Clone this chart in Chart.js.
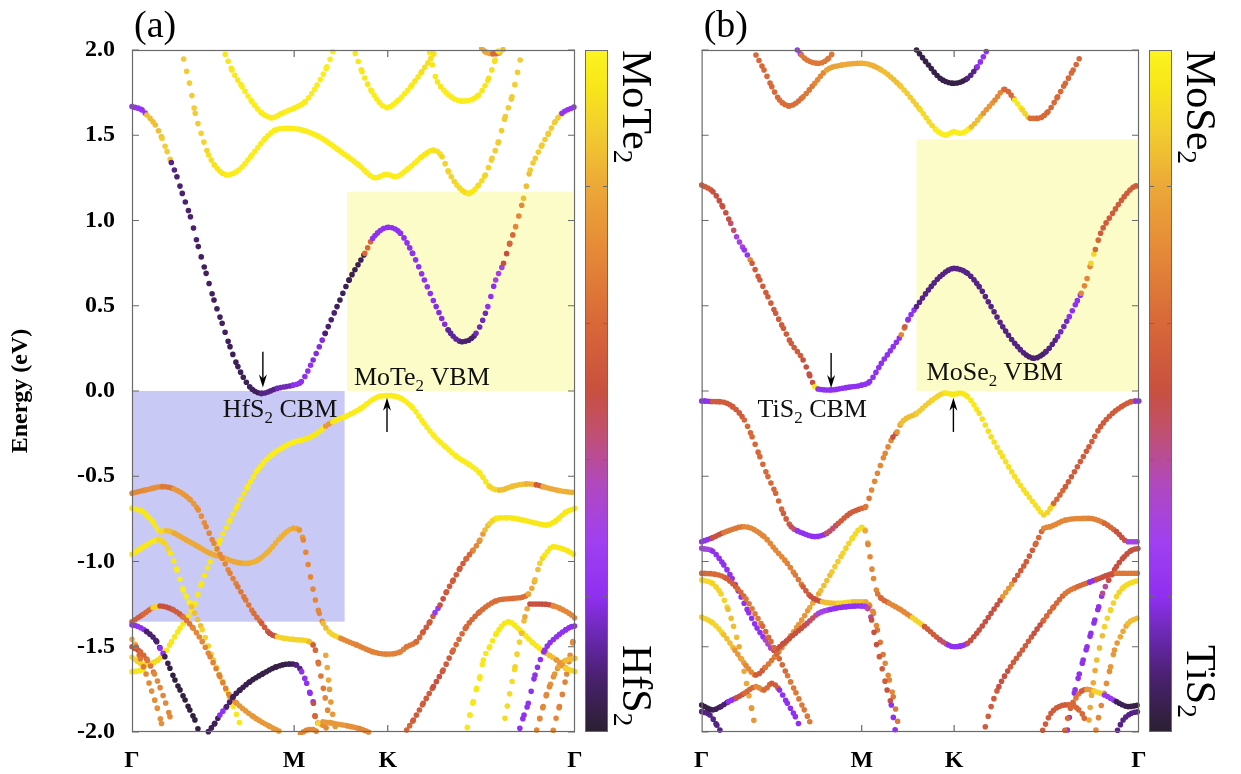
<!DOCTYPE html>
<html><head><meta charset="utf-8">
<script src="https://cdn.jsdelivr.net/npm/chart.js"></script>
<style>
html,body{margin:0;padding:0;background:#fff;width:1241px;height:774px;overflow:hidden}
#ca{position:absolute;left:0;top:0}
#cb{position:absolute;left:680px;top:0}
</style></head><body>
<canvas id="ca" width="680" height="774"></canvas>
<canvas id="cb" width="561" height="774"></canvas>
<script>
// ---------- axis values ----------
const kTicks = [0, 0.5774, 0.9107, 1.5774];
const kLabels = ['Γ', 'M', 'K', 'Γ'];
const eTicks = [-2, -1.5, -1, -0.5, 0, 0.5, 1, 1.5, 2];

// ---------- panel (a) bands: [k, E (eV), MoTe2 weight] ----------
const aC = [[0,1.668,0.22],[0.036,1.648,0.22],[0.053,1.619,0.85],[0.083,1.560,0.85],[0.107,1.482,0.88],[0.125,1.404,0.88],[0.140,1.340,0.1],[0.160,1.257,0.08],[0.179,1.159,0.08],[0.208,1.022,0.08],[0.236,0.847,0.06],[0.264,0.690,0.06],[0.292,0.534,0.06],[0.321,0.397,0.06],[0.349,0.260,0.05],[0.377,0.143,0.05],[0.419,0.025,0.06],[0.462,-0.014,0.1],[0.518,0.016,0.15],[0.575,0.035,0.2],[0.603,0.055,0.2],[0.645,0.182,0.18],[0.688,0.338,0.08],[0.730,0.495,0.05],[0.773,0.651,0.04],[0.815,0.768,0.05],[0.829,0.807,0.6],[0.857,0.895,0.2],[0.914,0.960,0.2],[0.956,0.925,0.2],[0.999,0.807,0.2],[1.041,0.651,0.2],[1.083,0.495,0.18],[1.126,0.358,0.12],[1.175,0.289,0.08],[1.225,0.338,0.15],[1.267,0.495,0.2],[1.295,0.651,0.3],[1.323,0.749,0.5],[1.345,0.866,0.6],[1.366,0.964,0.7],[1.394,1.130,0.85],[1.418,1.296,0.88],[1.436,1.365,0.88],[1.460,1.443,0.88],[1.483,1.511,0.88],[1.507,1.580,0.88],[1.531,1.629,0.22],[1.5774,1.668,0.22]];
const aT1 = [[0.184,1.947,0.88],[0.208,1.779,0.88],[0.225,1.629,0.88],[0.246,1.511,0.9],[0.273,1.384,0.93],[0.303,1.306,0.95],[0.338,1.267,0.97],[0.380,1.296,0.97],[0.427,1.384,0.97],[0.475,1.482,0.97],[0.510,1.531,0.97],[0.558,1.541,0.97],[0.605,1.531,0.97],[0.665,1.492,0.97],[0.736,1.413,0.97],[0.807,1.326,0.97],[0.866,1.251,0.97],[0.908,1.271,0.97],[0.937,1.257,0.97],[0.985,1.306,0.97],[1.032,1.374,0.95],[1.074,1.413,0.93],[1.104,1.374,0.9],[1.127,1.286,0.9],[1.157,1.208,0.92],[1.199,1.159,0.95],[1.234,1.208,0.92],[1.258,1.267,0.9],[1.282,1.365,0.88],[1.305,1.462,0.88],[1.329,1.609,0.88],[1.353,1.726,0.88],[1.386,1.971,0.88]];
const aT2 = [[0.332,1.975,0.95],[0.356,1.883,0.95],[0.392,1.785,0.97],[0.427,1.697,0.97],[0.463,1.629,0.97],[0.498,1.603,0.97],[0.534,1.629,0.97],[0.581,1.662,0.97],[0.617,1.697,0.97],[0.659,1.795,0.97],[0.694,1.902,0.97],[0.718,2.0,0.97]];
const aT3 = [[0.795,1.980,0.95],[0.819,1.873,0.95],[0.854,1.756,0.97],[0.908,1.662,0.97],[0.949,1.707,0.97],[0.997,1.795,0.95],[1.032,1.873,0.93],[1.080,1.990,0.93]];
const aT4 = [[1.060,1.985,0.95],[1.080,1.844,0.95],[1.110,1.765,0.97],[1.175,1.701,0.97],[1.234,1.736,0.95],[1.270,1.834,0.93],[1.293,1.941,0.93],[1.305,2.0,0.93]];
const aT5 = [[1.245,2.01,0.8],[1.262,1.985,0.8],[1.285,1.978,0.6],[1.31,1.985,0.85],[1.325,2.01,0.85]];
const aV1 = [[0,-1.562,0.9],[0.046,-1.607,0.9],[0.08,-1.59,0.92],[0.112,-1.548,0.95],[0.141,-1.470,0.95],[0.171,-1.392,0.95],[0.200,-1.324,0.95],[0.224,-1.245,0.95],[0.248,-1.128,0.95],[0.278,-1.001,0.95],[0.314,-0.874,0.95],[0.349,-0.757,0.95],[0.377,-0.669,0.95],[0.412,-0.561,0.97],[0.448,-0.463,0.97],[0.490,-0.385,0.97],[0.532,-0.336,0.97],[0.575,-0.300,0.97],[0.617,-0.282,0.95],[0.660,-0.248,0.95],[0.690,-0.205,0.75],[0.715,-0.180,0.95],[0.758,-0.151,0.97],[0.815,-0.102,0.97],[0.857,-0.050,0.97],[0.885,-0.030,0.97],[0.911,-0.027,0.97],[0.935,-0.030,0.97],[0.960,-0.045,0.97],[1.000,-0.100,0.97],[1.040,-0.190,0.97],[1.079,-0.270,0.97],[1.118,-0.330,0.97],[1.156,-0.385,0.97],[1.203,-0.434,0.97],[1.239,-0.483,0.95],[1.274,-0.561,0.9],[1.310,-0.581,0.85],[1.358,-0.557,0.85],[1.405,-0.545,0.82],[1.440,-0.550,0.55],[1.464,-0.561,0.8],[1.524,-0.585,0.82],[1.5774,-0.596,0.82]];
const aV2 = [[0,-0.688,0.95],[0.038,-0.708,0.95],[0.073,-0.766,0.95],[0.102,-0.825,0.92],[0.123,-0.819,0.85],[0.151,-0.835,0.8],[0.194,-0.874,0.8],[0.236,-0.913,0.8],[0.278,-0.952,0.8],[0.321,-0.975,0.8],[0.363,-1.001,0.8],[0.405,-1.011,0.82],[0.448,-0.991,0.82],[0.490,-0.933,0.82],[0.532,-0.854,0.82],[0.575,-0.805,0.8],[0.596,-0.815,0.75],[0.610,-0.874,0.7],[0.624,-0.991,0.7],[0.638,-1.109,0.7],[0.653,-1.226,0.7],[0.667,-1.304,0.7],[0.681,-1.363,0.85],[0.702,-1.412,0.9],[0.744,-1.451,0.7],[0.801,-1.490,0.68],[0.857,-1.529,0.68],[0.907,-1.543,0.68],[0.956,-1.529,0.68],[0.978,-1.50,0.65],[1.013,-1.470,0.6],[1.037,-1.412,0.55],[1.061,-1.353,0.55],[1.079,-1.300,0.25],[1.097,-1.255,0.5],[1.120,-1.177,0.55],[1.144,-1.109,0.55],[1.168,-1.040,0.55],[1.191,-0.982,0.6],[1.215,-0.933,0.7],[1.239,-0.874,0.75],[1.257,-0.815,0.85],[1.274,-0.776,0.9],[1.298,-0.747,0.95],[1.334,-0.743,0.95],[1.393,-0.757,0.95],[1.441,-0.776,0.95],[1.476,-0.786,0.95],[1.51,-0.76,0.95],[1.545,-0.71,0.95],[1.5774,-0.688,0.95]];
const aL1 = [[0,-0.600,0.7],[0.05,-0.58,0.72],[0.109,-0.561,0.65],[0.15,-0.575,0.75],[0.208,-0.639,0.75],[0.236,-0.698,0.72],[0.264,-0.796,0.7],[0.292,-0.893,0.7],[0.321,-0.981,0.7],[0.349,-1.069,0.68],[0.377,-1.148,0.65],[0.405,-1.226,0.65],[0.434,-1.304,0.62],[0.462,-1.363,0.55],[0.490,-1.421,0.5],[0.518,-1.441,0.9],[0.575,-1.457,0.9],[0.631,-1.470,0.85],[0.645,-1.49,0.55],[0.653,-1.52,0.6],[0.664,-1.60,0.65],[0.676,-1.70,0.65],[0.688,-1.80,0.7],[0.700,-1.90,0.7],[0.712,-2.0,0.7]];
const aL3 = [[0,-0.958,0.95],[0.052,-0.903,0.95],[0.095,-0.870,0.9],[0.116,-0.893,0.9],[0.137,-0.952,0.95],[0.160,-1.05,0.97],[0.183,-1.167,0.97],[0.212,-1.265,0.85],[0.25,-1.40,0.9],[0.290,-1.578,0.9],[0.325,-1.714,0.95],[0.361,-1.851,0.95],[0.390,-1.978,0.95]];
const aR1 = [[0,-1.353,0.55],[0.040,-1.310,0.6],[0.075,-1.27,0.9],[0.100,-1.261,0.5],[0.147,-1.284,0.55],[0.183,-1.327,0.65],[0.218,-1.392,0.7],[0.25,-1.47,0.7],[0.278,-1.558,0.68],[0.313,-1.675,0.68],[0.349,-1.79,0.7],[0.373,-1.832,0.75],[0.432,-1.910,0.75],[0.491,-1.968,0.75],[0.527,-1.997,0.75]];
const aD = [[0,-1.372,0.2],[0.02,-1.38,0.2],[0.052,-1.411,0.08],[0.088,-1.470,0.08],[0.100,-1.509,0.2],[0.117,-1.558,0.05],[0.135,-1.626,0.02],[0.153,-1.695,0.02],[0.171,-1.753,0.02],[0.189,-1.812,0.02],[0.206,-1.871,0.02],[0.224,-1.929,0.02],[0.236,-1.988,0.02]];
const aDR = [[0.272,-1.998,0.05],[0.295,-1.949,0.05],[0.313,-1.900,0.2],[0.337,-1.851,0.08],[0.361,-1.792,0.05],[0.385,-1.753,0.04],[0.420,-1.705,0.03],[0.468,-1.656,0.03],[0.515,-1.617,0.03],[0.562,-1.601,0.05],[0.586,-1.607,0.1],[0.604,-1.646,0.2],[0.622,-1.714,0.2],[0.634,-1.773,0.2],[0.646,-1.831,0.5],[0.652,-1.909,0.6],[0.663,-1.949,0.9],[0.68,-1.96,0.7],[0.70,-1.99,0.7]];
const aNB = [[0.68,-1.94,0.75],[0.72,-1.95,0.75],[0.77,-1.965,0.72],[0.81,-1.98,0.7],[0.85,-2.005,0.7]];
const aS2 = [[0.69,-1.55,0.8],[0.697,-1.65,0.8],[0.703,-1.75,0.75],[0.71,-1.85,0.75],[0.72,-1.94,0.75],[0.728,-2.0,0.75]];
const aB = [[0.60,-2.01,0.7],[0.62,-1.99,0.7],[0.645,-1.985,0.7],[0.66,-2.0,0.7]];
const aD1 = [[0,-1.456,0.8],[0.015,-1.50,0.6],[0.03,-1.57,0.65],[0.05,-1.66,0.7],[0.07,-1.76,0.72],[0.09,-1.86,0.72],[0.105,-1.95,0.72],[0.11,-1.99,0.72]];
const aD2 = [[0,-1.50,0.5],[0.03,-1.53,0.6],[0.055,-1.58,0.65],[0.08,-1.66,0.7],[0.10,-1.74,0.7],[0.12,-1.83,0.7],[0.135,-1.91,0.7],[0.145,-1.98,0.7]];
const aY = [[0,-1.646,0.95],[0.03,-1.64,0.95],[0.05,-1.625,0.9]];
const aP = [[0.978,-1.988,0.6],[1.002,-1.930,0.55],[1.037,-1.832,0.55],[1.073,-1.734,0.5],[1.108,-1.636,0.55],[1.144,-1.519,0.6],[1.191,-1.382,0.6],[1.239,-1.294,0.62],[1.298,-1.230,0.62],[1.358,-1.216,0.62],[1.411,-1.191,0.8],[1.435,-1.108,0.85],[1.452,-1.011,0.9],[1.470,-0.962,0.95],[1.500,-0.913,0.95],[1.54,-0.93,0.95],[1.5774,-0.962,0.95]];
const aQ = [[1.328,-1.920,0.92],[1.340,-1.816,0.92],[1.352,-1.715,0.92],[1.364,-1.617,0.9],[1.373,-1.523,0.9],[1.387,-1.421,0.85],[1.399,-1.324,0.8],[1.417,-1.249,0.5],[1.476,-1.251,0.5],[1.50,-1.26,0.7],[1.524,-1.275,0.7],[1.565,-1.314,0.7],[1.5774,-1.333,0.7]];
const aPU = [[1.381,-1.978,0.2],[1.396,-1.90,0.2],[1.411,-1.832,0.2],[1.435,-1.666,0.2],[1.470,-1.519,0.2],[1.512,-1.441,0.2],[1.545,-1.40,0.2],[1.565,-1.382,0.2],[1.5774,-1.378,0.2]];
const aYP = [[1.194,-1.973,0.95],[1.203,-1.900,0.95],[1.215,-1.822,0.95],[1.227,-1.744,0.95],[1.239,-1.676,0.95],[1.251,-1.578,0.95],[1.274,-1.500,0.95],[1.298,-1.421,0.95],[1.340,-1.353,0.95],[1.381,-1.402,0.95],[1.429,-1.480,0.95],[1.476,-1.539,0.85],[1.512,-1.578,0.75],[1.545,-1.625,0.9],[1.5774,-1.646,0.95]];
const aO1 = [[1.441,-1.988,0.7],[1.452,-1.92,0.7],[1.464,-1.85,0.7],[1.476,-1.78,0.7],[1.49,-1.72,0.72],[1.505,-1.66,0.75],[1.52,-1.615,0.8],[1.545,-1.58,0.85],[1.5774,-1.568,0.9]];
const aO2 = [[1.50,-1.99,0.7],[1.51,-1.92,0.7],[1.522,-1.85,0.68],[1.535,-1.76,0.68],[1.548,-1.66,0.7],[1.56,-1.55,0.72],[1.57,-1.47,0.72],[1.5774,-1.44,0.72]];

// ---------- panel (b) bands: [k, E (eV), MoSe2 weight] ----------
const bC = [[0,1.208,0.55],[0.041,1.169,0.5],[0.076,1.081,0.5],[0.105,0.983,0.45],[0.126,0.905,0.3],[0.154,0.827,0.22],[0.175,0.77,0.7],[0.182,0.749,0.55],[0.210,0.651,0.55],[0.239,0.553,0.55],[0.267,0.456,0.55],[0.295,0.368,0.55],[0.323,0.280,0.55],[0.366,0.182,0.5],[0.390,0.09,0.5],[0.408,0.025,0.95],[0.420,0.012,0.2],[0.465,0.006,0.2],[0.521,0.020,0.2],[0.578,0.035,0.2],[0.606,0.055,0.2],[0.648,0.162,0.2],[0.691,0.260,0.2],[0.72,0.33,0.7],[0.733,0.377,0.55],[0.745,0.42,0.2],[0.775,0.495,0.1],[0.818,0.592,0.1],[0.860,0.671,0.1],[0.910,0.719,0.1],[0.959,0.690,0.1],[1.001,0.612,0.1],[1.044,0.495,0.1],[1.086,0.377,0.1],[1.129,0.280,0.1],[1.171,0.211,0.08],[1.199,0.192,0.08],[1.242,0.231,0.1],[1.284,0.319,0.15],[1.326,0.436,0.2],[1.355,0.53,0.2],[1.369,0.573,0.7],[1.39,0.66,0.7],[1.404,0.749,0.9],[1.42,0.83,0.6],[1.439,0.925,0.55],[1.482,1.042,0.55],[1.524,1.140,0.55],[1.556,1.195,0.55],[1.5774,1.208,0.55]];
const bT1 = [[0.196,1.971,0.6],[0.225,1.883,0.6],[0.253,1.785,0.6],[0.281,1.707,0.62],[0.316,1.672,0.62],[0.366,1.726,0.65],[0.408,1.805,0.7],[0.451,1.883,0.78],[0.507,1.912,0.8],[0.578,1.922,0.82],[0.648,1.883,0.85],[0.719,1.785,0.88],[0.789,1.648,0.92],[0.846,1.531,0.97],[0.881,1.501,0.97],[0.910,1.521,0.97],[0.931,1.511,0.97],[0.973,1.550,0.85],[1.016,1.629,0.75],[1.058,1.707,0.7],[1.093,1.769,0.6],[1.129,1.707,0.95],[1.157,1.648,0.9],[1.185,1.599,0.62],[1.213,1.599,0.6],[1.249,1.638,0.6],[1.284,1.726,0.6],[1.312,1.805,0.6],[1.340,1.883,0.6],[1.369,1.971,0.6]];
const bT2 = [[0.345,2.0,0.25],[0.36,1.97,0.65],[0.380,1.941,0.65],[0.422,1.922,0.65],[0.458,1.951,0.65],[0.476,1.990,0.65]];
const bT3 = [[0.775,2.0,0.03],[0.818,1.912,0.03],[0.860,1.834,0.03],[0.910,1.805,0.03],[0.959,1.834,0.1],[0.994,1.902,0.2],[1.030,2.0,0.2]];
const bV1 = [[0,-0.059,0.2],[0.013,-0.059,0.2],[0.04,-0.062,0.55],[0.069,-0.063,0.55],[0.112,-0.092,0.55],[0.154,-0.170,0.6],[0.182,-0.268,0.6],[0.210,-0.385,0.6],[0.239,-0.502,0.6],[0.267,-0.600,0.6],[0.295,-0.718,0.55],[0.323,-0.796,0.45],[0.345,-0.82,0.22],[0.366,-0.835,0.2],[0.408,-0.854,0.2],[0.451,-0.835,0.45],[0.493,-0.776,0.55],[0.535,-0.718,0.55],[0.578,-0.688,0.6],[0.592,-0.678,0.65],[0.613,-0.581,0.7],[0.634,-0.483,0.7],[0.662,-0.366,0.7],[0.690,-0.27,0.5],[0.705,-0.240,0.75],[0.719,-0.190,0.85],[0.775,-0.131,0.88],[0.832,-0.053,0.9],[0.88,-0.012,0.95],[0.91,-0.02,0.95],[0.93,-0.012,0.95],[0.959,-0.033,0.95],[1.001,-0.131,0.93],[1.044,-0.268,0.93],[1.086,-0.385,0.93],[1.129,-0.502,0.93],[1.171,-0.600,0.93],[1.213,-0.688,0.93],[1.234,-0.727,0.9],[1.270,-0.659,0.6],[1.312,-0.561,0.55],[1.355,-0.444,0.55],[1.397,-0.327,0.55],[1.439,-0.209,0.55],[1.482,-0.131,0.55],[1.524,-0.082,0.55],[1.55,-0.062,0.55],[1.566,-0.059,0.2],[1.5774,-0.059,0.2]];
const bA = [[0,-0.884,0.2],[0.04,-0.86,0.5],[0.08,-0.83,0.65],[0.154,-0.796,0.7],[0.225,-0.854,0.7],[0.267,-0.933,0.7],[0.309,-1.011,0.68],[0.338,-1.079,0.65],[0.366,-1.148,0.55],[0.394,-1.206,0.5],[0.436,-1.236,0.85],[0.493,-1.245,0.9],[0.549,-1.236,0.85],[0.592,-1.236,0.8],[0.606,-1.26,0.7],[0.620,-1.304,0.7],[0.634,-1.402,0.65],[0.648,-1.500,0.65],[0.662,-1.597,0.7],[0.677,-1.695,0.7],[0.691,-1.793,0.65],[0.702,-1.890,0.65],[0.712,-1.988,0.65]];
const bCc = [[0,-0.923,0.3],[0.04,-0.94,0.2],[0.08,-1.02,0.2],[0.11,-1.10,0.2],[0.14,-1.20,0.2],[0.17,-1.30,0.2],[0.20,-1.39,0.2],[0.23,-1.46,0.35],[0.26,-1.52,0.5],[0.295,-1.480,0.5],[0.338,-1.421,0.5],[0.380,-1.363,0.45],[0.422,-1.304,0.3],[0.465,-1.281,0.2],[0.521,-1.265,0.2],[0.578,-1.261,0.25],[0.599,-1.275,0.4],[0.613,-1.343,0.5],[0.627,-1.460,0.5],[0.641,-1.558,0.55],[0.655,-1.656,0.55],[0.669,-1.754,0.5],[0.684,-1.842,0.2],[0.698,-1.988,0.5]];
const bB = [[0,-1.326,0.9],[0.04,-1.36,0.9],[0.08,-1.43,0.85],[0.12,-1.52,0.75],[0.16,-1.61,0.7],[0.196,-1.666,0.55],[0.23,-1.62,0.65],[0.268,-1.55,0.7],[0.31,-1.46,0.75],[0.35,-1.37,0.75],[0.39,-1.27,0.8],[0.43,-1.17,0.85],[0.47,-1.06,0.88],[0.51,-0.95,0.9],[0.545,-0.86,0.92],[0.578,-0.80,0.92],[0.59,-0.82,0.8],[0.60,-0.90,0.7],[0.61,-1.00,0.7],[0.62,-1.10,0.7],[0.635,-1.19,0.65],[0.648,-1.216,0.6],[0.677,-1.245,0.7],[0.719,-1.284,0.7],[0.76,-1.33,0.9],[0.804,-1.382,0.55],[0.86,-1.46,0.45],[0.89,-1.49,0.2],[0.91,-1.50,0.2],[0.935,-1.495,0.2],[0.959,-1.48,0.5],[1.001,-1.402,0.5],[1.044,-1.304,0.5],[1.086,-1.206,0.75],[1.129,-1.108,0.55],[1.171,-1.001,0.55],[1.206,-0.893,0.6],[1.234,-0.806,0.7],[1.256,-0.796,0.7],[1.312,-0.757,0.7],[1.397,-0.747,0.68],[1.453,-0.776,0.6],[1.496,-0.825,0.5],[1.538,-0.884,0.3],[1.5774,-0.884,0.2]];
const bE = [[0,-1.069,0.6],[0.05,-1.075,0.6],[0.09,-1.10,0.55],[0.13,-1.16,0.6],[0.16,-1.22,0.65],[0.19,-1.30,0.65],[0.22,-1.38,0.6],[0.25,-1.47,0.6],[0.28,-1.57,0.6],[0.31,-1.67,0.65],[0.34,-1.77,0.65],[0.37,-1.87,0.65],[0.39,-1.94,0.65],[0.40,-1.99,0.65]];
const bF = [[0,-1.108,0.92],[0.04,-1.13,0.9],[0.07,-1.19,0.9],[0.095,-1.28,0.85],[0.115,-1.38,0.85],[0.135,-1.50,0.8],[0.15,-1.62,0.8],[0.165,-1.74,0.8],[0.18,-1.86,0.75],[0.195,-1.99,0.75]];
const bDk = [[0,-1.842,0.03],[0.041,-1.870,0.05],[0.07,-1.85,0.08],[0.097,-1.822,0.2],[0.125,-1.80,0.5],[0.154,-1.773,0.6],[0.196,-1.734,0.7],[0.225,-1.754,0.6],[0.253,-1.714,0.55],[0.281,-1.754,0.2],[0.309,-1.832,0.2],[0.338,-1.910,0.2],[0.359,-1.988,0.2]];
const bDk2 = [[0,-1.88,0.1],[0.03,-1.90,0.1],[0.055,-1.96,0.1],[0.07,-2.0,0.1]];
const bP1 = [[1.319,-1.988,0.2],[1.333,-1.851,0.2],[1.347,-1.753,0.2],[1.362,-1.66,0.2],[1.376,-1.578,0.2],[1.390,-1.500,0.2],[1.404,-1.421,0.2],[1.418,-1.343,0.2],[1.432,-1.265,0.2],[1.446,-1.187,0.4],[1.468,-1.109,0.5],[1.496,-1.030,0.5],[1.524,-0.972,0.5],[1.552,-0.933,0.5],[1.5774,-0.923,0.2]];
const bP2 = [[1.023,-1.969,0.55],[1.044,-1.851,0.55],[1.072,-1.734,0.5],[1.114,-1.617,0.55],[1.157,-1.519,0.55],[1.199,-1.421,0.5],[1.234,-1.343,0.6],[1.270,-1.265,0.6],[1.312,-1.187,0.65],[1.355,-1.148,0.6],[1.40,-1.12,0.2],[1.425,-1.105,0.5],[1.496,-1.069,0.65],[1.5774,-1.069,0.65]];
const bP3 = [[1.397,-1.930,0.8],[1.404,-1.812,0.8],[1.414,-1.695,0.8],[1.425,-1.578,0.85],[1.439,-1.480,0.85],[1.453,-1.382,0.9],[1.475,-1.284,0.9],[1.496,-1.206,0.9],[1.524,-1.148,0.92],[1.5774,-1.108,0.95]];
const bP4 = [[1.422,-1.988,0.7],[1.432,-1.910,0.7],[1.446,-1.812,0.7],[1.460,-1.715,0.72],[1.475,-1.617,0.75],[1.489,-1.519,0.75],[1.510,-1.441,0.8],[1.538,-1.363,0.85],[1.5774,-1.327,0.92]];
const bP5 = [[1.31,-1.99,0.6],[1.32,-1.92,0.6],[1.33,-1.86,0.6],[1.35,-1.80,0.65],[1.37,-1.76,0.55],[1.39,-1.75,0.75],[1.415,-1.76,0.9],[1.453,-1.783,0.25],[1.496,-1.822,0.05],[1.538,-1.851,0.03],[1.5774,-1.842,0.03]];
const bP6 = [[1.50,-1.99,0.1],[1.52,-1.93,0.1],[1.55,-1.89,0.1],[1.5774,-1.88,0.15]];
const bP7 = [[1.23,-1.99,0.55],[1.26,-1.89,0.55],[1.29,-1.85,0.55],[1.33,-1.84,0.6],[1.36,-1.87,0.6],[1.38,-1.92,0.6],[1.39,-1.99,0.6]];

const bandsA = [aT1,aT2,aT3,aT4,aT5,aC,aB,aNB,aS2,aDR,aD,aD1,aD2,aR1,aL3,aL1,aY,aV2,aV1,aP,aQ,aPU,aYP,aO1,aO2];
const bandsB = [bT1,bT2,bT3,bC,bDk,bDk2,bE,bF,bCc,bA,bB,bV1,bP7,bP5,bP6,bP4,bP3,bP2,bP1];

// ---------- colour map (0 = bottom layer, 1 = top layer) ----------
const CM = [[0,'#2a2030'],[0.08,'#4a2070'],[0.14,'#6a28b0'],[0.2,'#9030f0'],[0.28,'#a040f0'],[0.36,'#b048c0'],[0.44,'#c05070'],[0.5,'#c85040'],[0.6,'#d86838'],[0.7,'#e48838'],[0.8,'#eca838'],[0.88,'#f2cc30'],[0.95,'#f8e818'],[1,'#fcf420']];
function hx(c){return [parseInt(c.slice(1,3),16),parseInt(c.slice(3,5),16),parseInt(c.slice(5,7),16)];}
function cmap(w){
  w=Math.max(0,Math.min(1,w));
  for(let i=1;i<CM.length;i++){
    if(w<=CM[i][0]){
      const t=(w-CM[i-1][0])/(CM[i][0]-CM[i-1][0]);
      const a=hx(CM[i-1][1]), b=hx(CM[i][1]);
      return 'rgb('+a.map((v,j)=>Math.round(v+(b[j]-v)*t)).join(',')+')';
    }
  }
  return CM[CM.length-1][1];
}

const SERIF='"Liberation Serif", "Times New Roman", serif';
function rich(ctx, parts, x, y, size, align){
  const sub=size*0.65; let total=0;
  parts.forEach(p=>{ctx.font=(p[1]?sub:size)+'px '+SERIF; total+=ctx.measureText(p[0]).width;});
  let cx = align==='center' ? x-total/2 : x;
  ctx.textAlign='left'; ctx.textBaseline='alphabetic';
  parts.forEach(p=>{ctx.font=(p[1]?sub:size)+'px '+SERIF; ctx.fillText(p[0],cx,y+(p[1]?size*0.22:0)); cx+=ctx.measureText(p[0]).width;});
}
function arrow(ctx,x,y0,y1){
  const d=Math.sign(y1-y0);
  ctx.beginPath(); ctx.moveTo(x,y0); ctx.lineTo(x,y1-d*6); ctx.stroke();
  ctx.beginPath(); ctx.moveTo(x,y1); ctx.lineTo(x-4,y1-d*13); ctx.lineTo(x,y1-d*9); ctx.lineTo(x+4,y1-d*13); ctx.closePath(); ctx.fill();
}

function overlayPlugin(P){
  return {
    id:'overlay',
    beforeDatasetsDraw(chart){
      const ctx=chart.ctx, xs=chart.scales.x, ys=chart.scales.y;
      ctx.save();
      P.rects.forEach(r=>{
        const x0=xs.getPixelForValue(r.k0), x1=xs.getPixelForValue(r.k1);
        const y0=ys.getPixelForValue(r.e1), y1=ys.getPixelForValue(r.e0);
        ctx.fillStyle=r.color; ctx.fillRect(x0,y0,x1-x0,y1-y0);
      });
      ctx.restore();
    },
    afterDatasetsDraw(chart){
      const ctx=chart.ctx, xs=chart.scales.x, ys=chart.scales.y, A=chart.chartArea;
      ctx.save();
      // frame
      ctx.strokeStyle='#6a6a6a'; ctx.lineWidth=1.2;
      ctx.strokeRect(A.left+0.5,A.top+0.5,A.right-A.left-1,A.bottom-A.top-1);
      // inward ticks
      ctx.beginPath();
      eTicks.forEach(v=>{const y=ys.getPixelForValue(v); ctx.moveTo(A.left,y); ctx.lineTo(A.left+7,y); ctx.moveTo(A.right-7,y); ctx.lineTo(A.right,y);});
      kTicks.slice(1,3).forEach(v=>{const x=xs.getPixelForValue(v); ctx.moveTo(x,A.bottom); ctx.lineTo(x,A.bottom-7); ctx.moveTo(x,A.top); ctx.lineTo(x,A.top+7);});
      ctx.stroke();
      // arrows
      ctx.strokeStyle='#000'; ctx.fillStyle='#000'; ctx.lineWidth=1.4;
      P.arrows.forEach(a=>arrow(ctx,xs.getPixelForValue(a[0]),ys.getPixelForValue(a[1]),ys.getPixelForValue(a[2])));
      // annotation texts
      ctx.fillStyle='#111';
      P.texts.forEach(t=>rich(ctx,t.parts,xs.getPixelForValue(t.k),ys.getPixelForValue(t.e),26,'center'));
      // panel tag
      ctx.fillStyle='#000';
      ctx.font='38px '+SERIF; ctx.textAlign='left'; ctx.textBaseline='alphabetic';
      ctx.fillText(P.tag, A.left+2, 37);
      // colour bar
      const cx0=A.right+10, cw=23, cy0=A.top, ch=A.bottom-A.top;
      const g=ctx.createLinearGradient(0,cy0+ch,0,cy0);
      for(let i=0;i<=50;i++){g.addColorStop(i/50,cmap(i/50));}
      ctx.fillStyle=g; ctx.fillRect(cx0,cy0,cw,ch);
      ctx.strokeStyle='#6a6a6a'; ctx.lineWidth=1;
      ctx.strokeRect(cx0+0.5,cy0+0.5,cw-1,ch-1);
      ctx.beginPath();
      for(let i=1;i<5;i++){const y=Math.round(cy0+ch*i/5)+0.5; ctx.moveTo(cx0,y); ctx.lineTo(cx0+5,y); ctx.moveTo(cx0+cw-5,y); ctx.lineTo(cx0+cw,y);}
      ctx.stroke();
      // colour bar labels (rotated)
      ctx.fillStyle='#000';
      [[P.cbTop,cy0],[P.cbBottom,cy0+595]].forEach(([parts,y])=>{
        ctx.save(); ctx.translate(A.right+48,y); ctx.rotate(Math.PI/2);
        rich(ctx,parts,0,0,42,'left'); ctx.restore();
      });
      // y title
      if(P.yTitle){
        ctx.save(); ctx.translate(21,391); ctx.rotate(-Math.PI/2);
        ctx.font='bold 24px '+SERIF; ctx.textAlign='center'; ctx.textBaseline='middle';
        ctx.fillText(P.yTitle,0,0); ctx.restore();
      }
      ctx.restore();
    }
  };
}

function makeChart(P){
  const datasets=P.bands.map(b=>({
    data:b.map(p=>({x:p[0],y:p[1]})),
    borderWidth:5.6, borderCapStyle:'round', borderColor:'#000',
    pointRadius:0, pointHoverRadius:0, fill:false,
    cubicInterpolationMode:'monotone', clip:3,
    segment:{
      borderColor:c=>cmap(b[c.p0DataIndex][2]),
      borderDash:c=>{
        const dx=Math.abs(c.p1.x-c.p0.x), dy=Math.abs(c.p1.y-c.p0.y);
        const len=Math.hypot(dx,dy);
        return [0, Math.min(12.5, Math.max(2.6, 3.0*len/Math.max(dx,0.01)))];
      }
    }
  }));
  return new Chart(document.getElementById(P.canvas),{
    type:'line',
    data:{datasets},
    options:{
      responsive:false, animation:false, devicePixelRatio:1, events:[],
      layout:{padding:{left:0,right:P.padRight,top:50,bottom:0}},
      plugins:{legend:{display:false},tooltip:{enabled:false}},
      scales:{
        x:{type:'linear',min:0,max:1.5774,
           grid:{display:false,drawTicks:false},border:{display:false},
           afterBuildTicks:s=>{s.ticks=kTicks.map(v=>({value:v}));},
           afterFit:s=>{s.height=42;},
           ticks:{autoSkip:false,maxRotation:0,minRotation:0,padding:14,color:'#000',
                  font:{family:SERIF,size:24,weight:'bold'},callback:(v,i)=>kLabels[i]}},
        y:{type:'linear',min:-2,max:2,
           grid:{display:false,drawTicks:false},border:{display:false},
           afterBuildTicks:s=>{s.ticks=eTicks.map(v=>({value:v}));},
           afterFit:s=>{s.width=P.yw;},
           ticks:{display:P.showY,padding:17,color:'#000',
                  font:{family:SERIF,size:24,weight:'bold'},callback:v=>Number(v).toFixed(1)}}
      }
    },
    plugins:[overlayPlugin(P)]
  });
}

makeChart({
  canvas:'ca', bands:bandsA, yw:132, padRight:105, showY:true, tag:'(a)', yTitle:'Energy (eV)',
  rects:[{k0:0,k1:0.757,e0:-1.353,e1:0,color:'#c9c9f6'},{k0:0.766,k1:1.57,e0:0,e1:1.169,color:'#fcfcc8'}],
  arrows:[[0.466,0.23,0.02],[0.908,-0.24,-0.04]],
  texts:[{k:0.527,e:-0.155,parts:[['HfS',0],['2',1],[' CBM',0]]},{k:1.032,e:0.035,parts:[['MoTe',0],['2',1],[' VBM',0]]}],
  cbTop:[['MoTe',0],['2',1]], cbBottom:[['HfS',0],['2',1]]
});
makeChart({
  canvas:'cb', bands:bandsB, yw:16, padRight:102, showY:false, tag:'(b)', yTitle:null,
  rects:[{k0:0.775,k1:1.57,e0:0,e1:1.476,color:'#fcfcc8'}],
  arrows:[[0.467,0.223,0.018],[0.908,-0.24,-0.04]],
  texts:[{k:0.399,e:-0.155,parts:[['TiS',0],['2',1],[' CBM',0]]},{k:1.057,e:0.065,parts:[['MoSe',0],['2',1],[' VBM',0]]}],
  cbTop:[['MoSe',0],['2',1]], cbBottom:[['TiS',0],['2',1]]
});
</script>
</body></html>
